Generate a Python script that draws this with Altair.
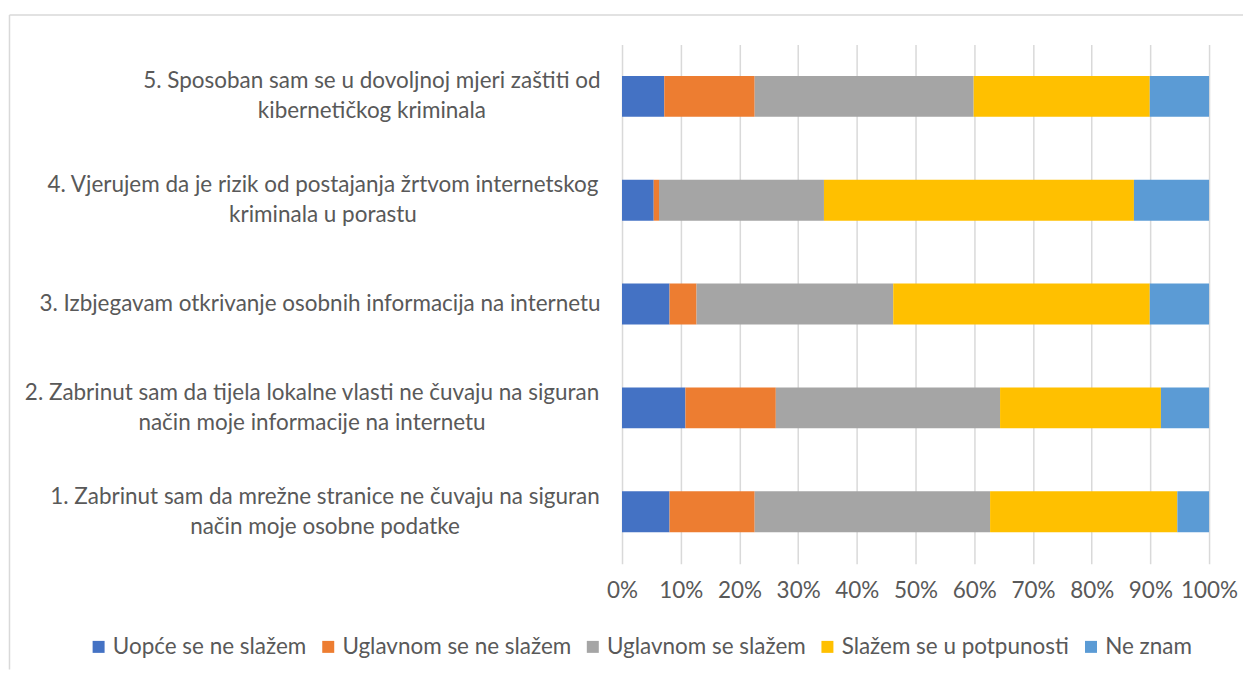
import altair as alt
import pandas as pd

questions = [
    "1. Zabrinut sam da mrežne stranice ne čuvaju na siguran|način moje osobne podatke",
    "2. Zabrinut sam da tijela lokalne vlasti ne čuvaju na siguran|način moje informacije na internetu",
    "3. Izbjegavam otkrivanje osobnih informacija na internetu",
    "4. Vjerujem da je rizik od postajanja žrtvom internetskog|kriminala u porastu",
    "5. Sposoban sam se u dovoljnoj mjeri zaštiti od|kibernetičkog kriminala",
]

series = [
    "Uopće se ne slažem",
    "Uglavnom se ne slažem",
    "Uglavnom se slažem",
    "Slažem se u potpunosti",
    "Ne znam",
]
colors = ["#4472C4", "#ED7D31", "#A5A5A5", "#FFC000", "#5B9BD5"]

uopce_ne = [8.1, 10.8, 8.1, 5.4, 7.2]
uglavnom_ne = [14.5, 15.4, 4.6, 0.9, 15.4]
uglavnom_da = [40.1, 38.2, 33.5, 28.1, 37.3]
potpuno = [31.9, 27.4, 43.7, 52.8, 30.0]
ne_znam = [5.4, 8.2, 10.1, 12.8, 10.1]

tick_values = [0, 0.1, 0.2, 0.3, 0.4, 0.5, 0.6, 0.7, 0.8, 0.9, 1.0]

values = [uopce_ne, uglavnom_ne, uglavnom_da, potpuno, ne_znam]
rows = []
for si, (name, vals) in enumerate(zip(series, values)):
    for q, v in zip(questions, vals):
        rows.append({"question": q, "series": name, "order": si, "value": v})
df = pd.DataFrame(rows)

FONT = "Lato"
FS = 22.5
TXT = "#595959"
GRID = "#D9D9D9"

# centre each (possibly two-line) label block so that its right edge sits ~21px left of the plot
label_pad = {
    "condition": [
        {"test": "substring(datum.value, 0, 1) == '5'", "value": 251},
        {"test": "substring(datum.value, 0, 1) == '4'", "value": 300},
        {"test": "substring(datum.value, 0, 1) == '3'", "value": 303},
        {"test": "substring(datum.value, 0, 1) == '2'", "value": 311},
    ],
    "value": 298,
}
# lift two-line labels so the block is centred on its bar
label_off = {
    "condition": {"test": "indexof(datum.value, '|') >= 0", "value": -15},
    "value": 0,
}

bars = alt.Chart(df).mark_bar().encode(
    x=alt.X(
        "value:Q",
        stack="normalize",
        scale=alt.Scale(domain=[0, 1], nice=False),
        axis=alt.Axis(
            values=tick_values,
            format=".0%",
            grid=True,
            gridColor=GRID,
            gridWidth=1.5,
            domain=False,
            ticks=False,
            labelPadding=16,
            labelOverlap=False,
            labelFlush=False,
            labelFont=FONT,
            labelFontSize=FS,
            labelColor=TXT,
            title=None,
        ),
    ),
    y=alt.Y(
        "question:N",
        sort=questions[::-1],
        scale=alt.Scale(paddingInner=0.606, paddingOuter=0.303),
        axis=alt.Axis(
            title=None,
            domain=False,
            ticks=False,
            grid=False,
            labelExpr="split(datum.label, '|')",
            labelAlign="center",
            labelPadding=label_pad,
            labelOffset=label_off,
            labelLineHeight=30,
            labelLimit=0,
            labelFont=FONT,
            labelFontSize=FS,
            labelColor=TXT,
        ),
    ),
    color=alt.Color(
        "series:N",
        scale=alt.Scale(domain=series, range=colors),
        legend=alt.Legend(
            orient="none",
            legendX=-535.5,
            legendY=592,
            direction="horizontal",
            title=None,
            symbolType="square",
            symbolSize=144,
            symbolStrokeWidth=0,
            labelFont=FONT,
            labelFontSize=FS,
            labelColor=TXT,
            labelLimit=0,
            columnPadding=10,
            labelOffset=3,
        ),
    ),
    order=alt.Order("order:Q"),
)

frame_data = alt.Data(values=[{"f": 1}])
frame_top = alt.Chart(frame_data).mark_rule(stroke=GRID, strokeWidth=1.5).encode(
    x=alt.value(-613.5),
    x2=alt.value(622),
    y=alt.value(-29.5),
)
frame_left = alt.Chart(frame_data).mark_rule(stroke=GRID, strokeWidth=1.5).encode(
    x=alt.value(-613.5),
    y=alt.value(-29.5),
    y2=alt.value(626),
)

chart = alt.layer(frame_top, frame_left, bars).properties(
    width=588,
    height=520,
    padding={"left": 0, "top": 5, "right": 0, "bottom": 0},
    background="white",
).configure_view(stroke=None)

chart.save("out.html", embed_options={"renderer": "svg", "actions": False})
